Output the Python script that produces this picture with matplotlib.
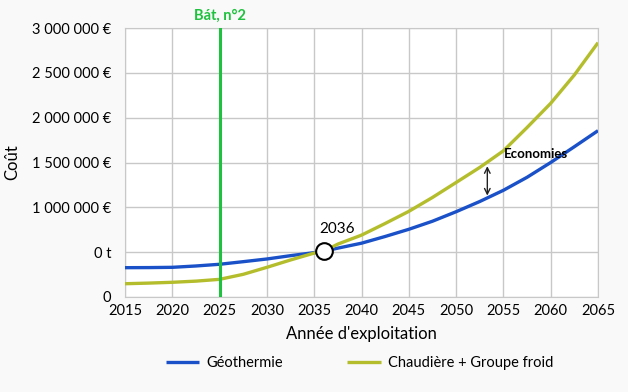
import numpy as np
from matplotlib import pyplot as plt

# values (every 2.5 years)
years = [2015, 2017.5, 2020, 2022.5, 2025, 2027.5, 2030, 2032.5, 2035, 2036,
         2037.5, 2040, 2042.5, 2045, 2047.5, 2050, 2052.5, 2055, 2057.5, 2060, 2062.5, 2065]
geothermie = [327000, 328000, 331000, 346000, 365000, 394000, 424000, 461000, 495000, 510000,
              545000, 600000, 675000, 755000, 845000, 951000, 1065000, 1190000, 1335000, 1500000, 1676000, 1855000]
chaudiere = [148000, 155000, 164000, 177000, 197000, 253000, 331000, 413000, 490000, 510000,
             590000, 690000, 820000, 955000, 1110000, 1277000, 1445000, 1630000, 1890000, 2160000, 2476000, 2836000]

ytick_vals = [0, 500000, 1000000, 1500000, 2000000, 2500000, 3000000]
ytick_labels = ["0", "0 t", "1 000 000 €", "1 500 000 €", "2 000 000 €", "2 500 000 €", "3 000 000 €"]
xtick_vals = list(range(2015, 2066, 5))

bat_year = 2025
cross_year, cross_val = 2036, 510000
eco_year, eco_top, eco_bot = 2053.3, 1490000, 1100000

plt.rcParams['font.family'] = ['Lato', 'DejaVu Sans']

fig = plt.figure(figsize=(6.28, 3.92), dpi=100, facecolor='#f9f9f9')
ax = fig.add_axes([125/628, 1-297/392, (598-125)/628, (297-28)/392])
ax.set_facecolor('white')

ax.plot(years, geothermie, color='#1a50c8', lw=2.4, label='Géothermie', zorder=3,
        solid_capstyle='butt', solid_joinstyle='round')
ax.plot(years, chaudiere, color='#b4bd2c', lw=2.4, label='Chaudière + Groupe froid', zorder=3,
        solid_capstyle='butt', solid_joinstyle='round')

ax.axvline(bat_year, color='#1fc23e', lw=2.2, zorder=4)
ax.text(bat_year, 3000000 + 60000, 'Bát, n°2', color='#1fc23e', fontsize=10.5, fontweight='bold',
        ha='center', va='bottom')

ax.plot([cross_year], [cross_val], 'o', ms=12, mfc='white', mec='black', mew=1.5, zorder=5)
ax.text(cross_year + 1.4, cross_val + 170000, '2036', fontsize=11, ha='center', va='bottom')

ax.annotate('', xy=(eco_year, eco_top), xytext=(eco_year, eco_bot),
            arrowprops=dict(arrowstyle='<->', color='#222222', lw=1), zorder=5)
ax.text(eco_year + 1.8, 1590000, 'Economies', fontsize=9.5, fontweight='bold', ha='left', va='center', zorder=6)

ax.set_xlim(2015, 2065)
ax.set_ylim(0, 3000000)
ax.set_xticks(xtick_vals)
ax.set_yticks(ytick_vals)
ax.set_yticklabels(ytick_labels)
ax.tick_params(length=0, labelsize=10.5)
ax.tick_params(axis='x', pad=5)
ax.tick_params(axis='y', pad=10)
ax.grid(True, color='#c8c8c8', lw=1)
ax.set_axisbelow(True)
for s in ax.spines.values():
    s.set_color('#c8c8c8')

ax.set_xlabel("Année d'exploitation", fontsize=12, labelpad=6)
ax.set_ylabel('Coût', fontsize=12)
ax.yaxis.set_label_coords(-0.222, 0.5)

ax.legend(loc='center', bbox_to_anchor=(0.496, -0.245), ncol=2, frameon=False,
          fontsize=10.5, handlelength=2.3, handletextpad=0.5, columnspacing=4.4)

fig.savefig('out.png', dpi=100, facecolor=fig.get_facecolor())
